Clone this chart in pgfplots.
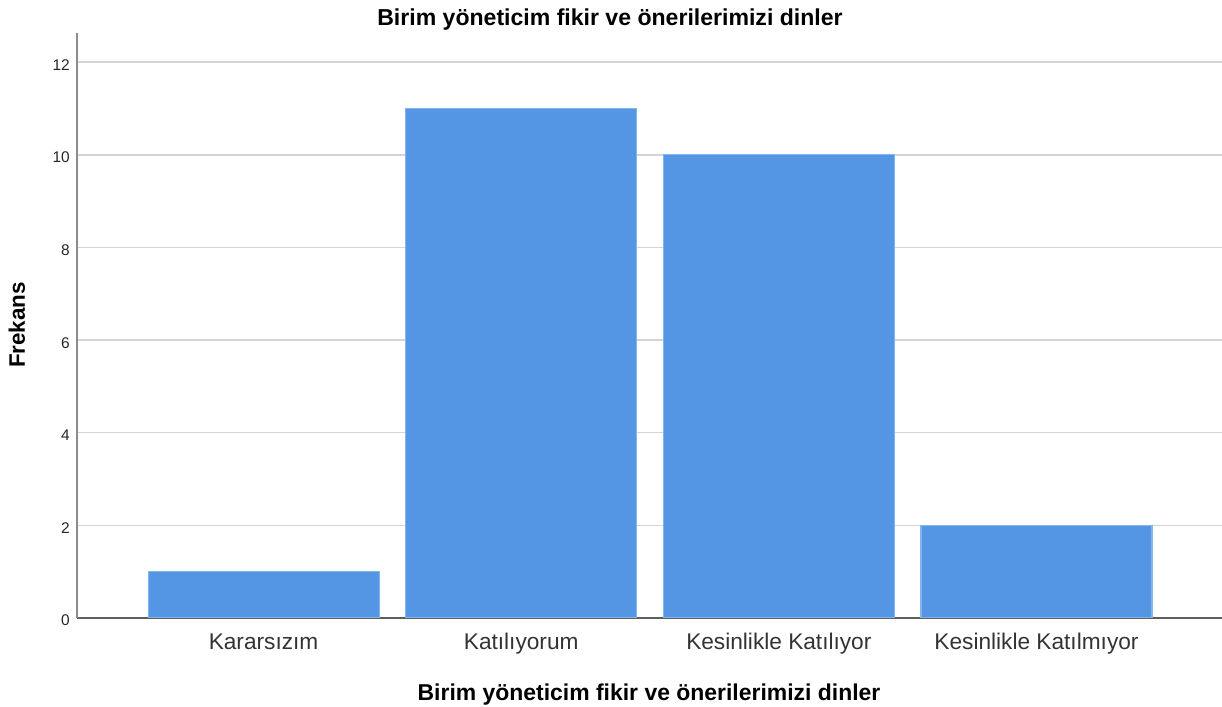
\documentclass[border=0pt]{standalone}
\usepackage{fontspec}
\setmainfont{Liberation Sans}
\usepackage{pgfplots}
\pgfplotsset{compat=1.18}
\definecolor{barblue}{RGB}{85,150,228}
\definecolor{baredge}{RGB}{130,180,238}
\definecolor{gridgray}{RGB}{212,212,212}
\definecolor{yaxisgray}{RGB}{140,140,140}
\definecolor{xaxisgray}{RGB}{95,95,95}
\begin{document}
\begin{tikzpicture}
\path[use as bounding box] (0,0) rectangle (916.5pt,530.25pt);
\begin{axis}[
  at={(57.75pt,66.75pt)}, anchor=south west,
  scale only axis, width=858.75pt, height=438.75pt,
  xmin=-0.724, xmax=3.72, ymin=0, ymax=12.63,
  axis x line=bottom, axis y line=left,
  axis line style={-},
  x axis line style={draw=xaxisgray, line width=1pt},
  y axis line style={draw=yaxisgray, line width=1.1pt},
  xtick={0,1,2,3},
  xticklabels={Kararsızım, Katılıyorum, Kesinlikle Katılıyor, Kesinlikle Katılmıyor},
  ytick={0,2,4,6,8,10,12},
  major tick length=0pt,
  ymajorgrids,
  major grid style={draw=gridgray, line width=1.1pt},
  /pgf/number format/assume math mode=true,
  xticklabel style={font=\fontsize{17}{20}\selectfont, text=black!80, anchor=base, yshift=-24pt},
  yticklabel style={font=\fontsize{11.6}{14}\selectfont, text=black!85, anchor=east, inner sep=0pt, xshift=-5.25pt, yshift=-2pt},
  ybar, bar width=173.25pt,
]
\addplot[fill=barblue, draw=baredge, line width=0.8pt] coordinates {(0,1) (1,11) (2,10) (3,2)};
\end{axis}
\node[anchor=base, font=\fontsize{17.3}{20}\selectfont\bfseries] at (457.5pt,510.75pt) {Birim yöneticim fikir ve önerilerimizi dinler};
\node[anchor=base, font=\fontsize{17.2}{20}\selectfont\bfseries] at (486.75pt,4.5pt) {Birim yöneticim fikir ve önerilerimizi dinler};
\node[anchor=base, rotate=90, font=\fontsize{16.8}{20}\selectfont\bfseries] at (18.75pt,286.5pt) {Frekans};
\end{tikzpicture}
\end{document}
